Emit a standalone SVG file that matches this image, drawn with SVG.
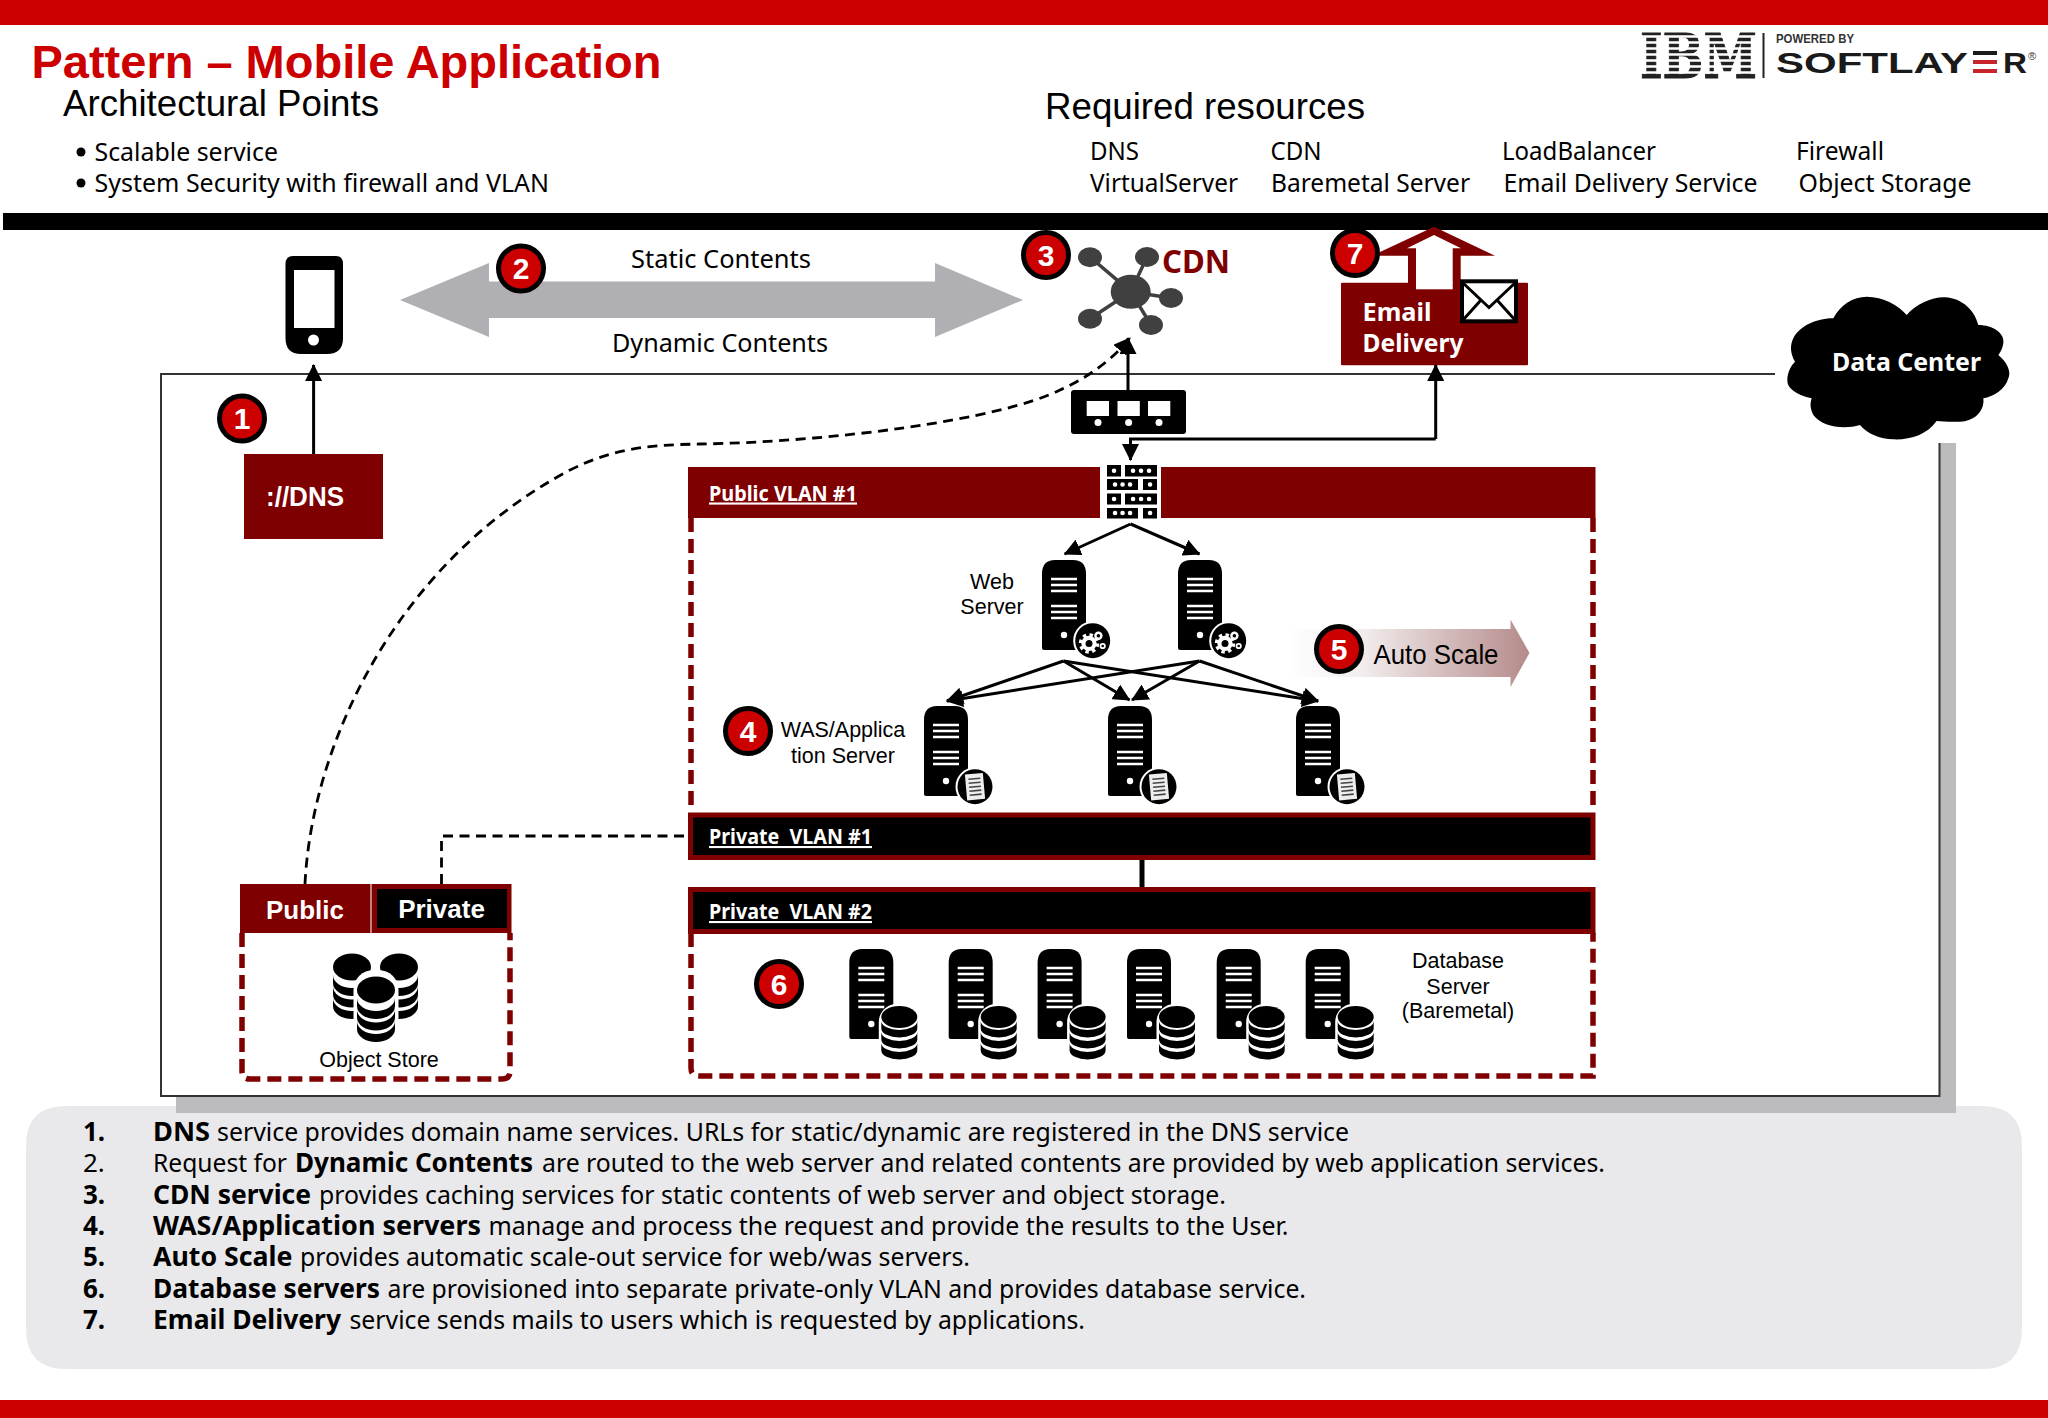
<svg xmlns="http://www.w3.org/2000/svg" width="2048" height="1418" viewBox="0 0 2048 1418">
<style>
text{white-space:pre}
.a{font-family:"Liberation Sans",Arial,sans-serif}
.n{font-family:"Noto Sans","Open Sans",sans-serif}
.b{font-weight:700}
.w{fill:#fff}
.k{fill:#000}
.m{fill:#7f0000}
.c{text-anchor:middle}
.u{text-decoration:underline}
.h{font-size:36px}
.t{font-size:24.5px}
.l{font-size:26px}
.s{font-size:21.5px}
.v{font-size:21px}
.dash{fill:none;stroke:#7f0000;stroke-width:5.5;stroke-dasharray:14 7}
.lnk{fill:none;stroke:#000;stroke-width:3}
.dl{fill:none;stroke:#000;stroke-width:2.8;stroke-dasharray:10 6.5}
</style>
<defs>
<marker id="ah" markerUnits="userSpaceOnUse" markerWidth="17" markerHeight="17" viewBox="0 0 16 16" refX="15" refY="8" orient="auto"><path d="M0,0L16,8L0,16z"/></marker>
<linearGradient id="gs" x1="0" x2="1" y1="0" y2="0"><stop offset="0" stop-color="#fff"/><stop offset="0.3" stop-color="#f3eeee"/><stop offset="1" stop-color="#b58a8a"/></linearGradient>
<g id="srv">
<path d="M0,88V14Q0,0 13,0H31Q44,0 44,14V88Q44,90 42,90H2Q0,90 0,88z"/>
<path d="M9,19H35M9,25H35M9,31H35M9,46H35M9,52H35M9,58H35" stroke="#fff" stroke-width="2.6"/>
<circle cx="22" cy="75" r="3.2" fill="#fff"/>
</g>
<g id="gear">
<circle r="19.5" fill="#fff"/><circle r="17.5"/>
<g fill="none" stroke="#fff">
<circle cx="-3.7" cy="2.7" r="5.6" stroke-width="4.2"/>
<circle cx="-3.7" cy="2.7" r="8.6" stroke-width="3.2" stroke-dasharray="3.4 3.4"/>
<circle cx="5.7" cy="-5" r="3" stroke-width="2.4"/>
<circle cx="10" cy="5.300" r="2.200" stroke-width="1.800"/>
</g>
</g>
<g id="doc">
<circle r="19.5" fill="#fff"/><circle r="17.5"/>
<g transform="rotate(-5)"><rect x="-9" y="-13" width="18" height="26" fill="#eee"/>
<path d="M-6,-8H6M-6,-4H6M-6,0H6M-6,4H6M-6,8H6" stroke="#444" stroke-width="1.6"/></g>
</g>
<g id="cyl">
<rect x="-20.5" y="-13" width="41" height="58" rx="18" fill="#fff"/>
<ellipse rx="18" ry="11"/>
<path d="M-18,4a18,9 0 0 0 36,0v7.500a18,9 0 0 1 -36,0zM-18,15a18,9 0 0 0 36,0v7.500a18,9 0 0 1 -36,0zM-18,26a18,9 0 0 0 36,0v7.500a18,9 0 0 1 -36,0z"/>
</g>
<g id="stack">
<ellipse rx="19" ry="13.500"/>
<path d="M-19,8a19,13 0 0 0 38,0v8a19,13 0 0 1 -38,0zM-19,19.500a19,13 0 0 0 38,0v8a19,13 0 0 1 -38,0zM-19,31a19,13 0 0 0 38,0v8a19,13 0 0 1 -38,0z"/>
</g>
</defs>

<rect id="bg" width="2048" height="1418" fill="#fff"/>
<rect id="bar-top" width="2048" height="25" fill="#cc0000"/>
<rect id="bar-bottom" y="1400" width="2048" height="18" fill="#cc0000"/>
<rect id="bar-black" x="3" y="213" width="2045" height="17"/>

<g id="title">
<text class="a b" x="31.500" y="77.500" font-size="47" fill="#cc0000" textLength="630" lengthAdjust="spacingAndGlyphs">Pattern – Mobile Application</text>
</g>
<g id="architectural-points">
<text class="a h" x="63" y="116" textLength="316" lengthAdjust="spacingAndGlyphs">Architectural Points</text>
<circle cx="81" cy="152" r="4.500"/><circle cx="81" cy="183" r="4.500"/>
<text class="n t" x="94.500" y="160.500" textLength="183.500" lengthAdjust="spacingAndGlyphs">Scalable service</text>
<text class="n t" x="94.500" y="191.500" textLength="454.500" lengthAdjust="spacingAndGlyphs">System Security with firewall and VLAN</text>
</g>
<g id="required-resources">
<text class="a h" x="1045" y="118.500" textLength="320" lengthAdjust="spacingAndGlyphs">Required resources</text>
<text class="n t" x="1090" y="159.500" textLength="49" lengthAdjust="spacingAndGlyphs">DNS</text>
<text class="n t" x="1270.500" y="159.500" textLength="51" lengthAdjust="spacingAndGlyphs">CDN</text>
<text class="n t" x="1502" y="159.500" textLength="154" lengthAdjust="spacingAndGlyphs">LoadBalancer</text>
<text class="n t" x="1796" y="159.500" textLength="88" lengthAdjust="spacingAndGlyphs">Firewall</text>
<text class="n t" x="1090" y="191.500" textLength="148" lengthAdjust="spacingAndGlyphs">VirtualServer</text>
<text class="n t" x="1271" y="191.500" textLength="199" lengthAdjust="spacingAndGlyphs">Baremetal Server</text>
<text class="n t" x="1503.500" y="191.500" textLength="254" lengthAdjust="spacingAndGlyphs">Email Delivery Service</text>
<text class="n t" x="1798.500" y="191.500" textLength="173" lengthAdjust="spacingAndGlyphs">Object Storage</text>
</g>
<g id="logo">
<text x="1640" y="78" font-family="DejaVu Serif,serif" font-weight="700" font-size="61" fill="#222" stroke="#222" stroke-width="1" textLength="117" lengthAdjust="spacingAndGlyphs">IBM</text>
<path d="M1636,36.500H1762M1636,42.500H1762M1636,48.500H1762M1636,54.500H1762M1636,60.500H1762M1636,66.500H1762M1636,72.500H1762" stroke="#fff" stroke-width="2.6"/>
<rect x="1762.500" y="33" width="2" height="45" fill="#222"/>
<text class="a b" x="1776" y="43" font-size="12.500" fill="#333" textLength="78" lengthAdjust="spacingAndGlyphs">POWERED BY</text>
<text class="a b" x="1776" y="73" font-size="30" fill="#1a1a1a"><tspan textLength="192" lengthAdjust="spacingAndGlyphs">SOFTLAY</tspan><tspan x="1973" textLength="25" lengthAdjust="spacingAndGlyphs">E</tspan><tspan x="2003" textLength="24" lengthAdjust="spacingAndGlyphs">R</tspan></text>
<rect x="1972" y="55" width="27" height="5" fill="#fff"/>
<rect x="1972" y="64" width="27" height="5" fill="#fff"/>
<rect x="1973" y="51" width="24" height="4" fill="#1a1a1a"/>
<rect x="1973" y="60" width="24" height="4" fill="#c8242c"/>
<rect x="1973" y="69" width="24" height="4" fill="#c8242c"/>
<text class="a" x="2028" y="60" font-size="11" fill="#333">®</text>
</g>

<g id="main-frame">
<rect x="1940" y="443" width="16" height="670" fill="#bcbcbe"/>
<rect x="176" y="1097" width="1780" height="16" fill="#bcbcbe"/>
<path d="M1775,374H161V1096H1939.500V443" fill="#fff" stroke="#333" stroke-width="2"/>
</g>
<g id="notes-panel">
<path d="M26,1146Q26,1106 66,1106H1982Q2022,1106 2022,1146V1329Q2022,1369 1982,1369H66Q26,1369 26,1329z" fill="#e9e9eb"/>
<rect x="176" y="1097" width="1780" height="16" fill="#bcbcbe"/>
<g class="n l">
<text x="83" y="1141" font-weight="700">1.</text>
<text x="153" y="1141" font-weight="700" textLength="57" lengthAdjust="spacingAndGlyphs">DNS</text>
<text x="217" y="1141" textLength="1132" lengthAdjust="spacingAndGlyphs">service provides domain name services. URLs for static/dynamic are registered in the DNS service</text>
<text x="83" y="1172.300">2.</text>
<text x="153" y="1172.300" textLength="134" lengthAdjust="spacingAndGlyphs">Request for</text>
<text x="295" y="1172.300" font-weight="700" textLength="238" lengthAdjust="spacingAndGlyphs">Dynamic Contents</text>
<text x="542" y="1172.300" textLength="1063" lengthAdjust="spacingAndGlyphs">are routed to the web server and related contents are provided by web application services.</text>
<text x="83" y="1203.600" font-weight="700">3.</text>
<text x="153" y="1203.600" font-weight="700" textLength="158" lengthAdjust="spacingAndGlyphs">CDN service</text>
<text x="319" y="1203.600" textLength="907" lengthAdjust="spacingAndGlyphs">provides caching services for static contents of web server and object storage.</text>
<text x="83" y="1235" font-weight="700">4.</text>
<text x="153" y="1235" font-weight="700" textLength="328" lengthAdjust="spacingAndGlyphs">WAS/Application servers</text>
<text x="488.500" y="1235" textLength="800" lengthAdjust="spacingAndGlyphs">manage and process the request and provide the results to the User.</text>
<text x="83" y="1266.300" font-weight="700">5.</text>
<text x="153" y="1266.300" font-weight="700" textLength="139.500" lengthAdjust="spacingAndGlyphs">Auto Scale</text>
<text x="300" y="1266.300" textLength="670" lengthAdjust="spacingAndGlyphs">provides automatic scale-out service for web/was servers.</text>
<text x="83" y="1297.600" font-weight="700">6.</text>
<text x="153" y="1297.600" font-weight="700" textLength="227" lengthAdjust="spacingAndGlyphs">Database servers</text>
<text x="387.500" y="1297.600" textLength="918.500" lengthAdjust="spacingAndGlyphs">are provisioned into separate private-only VLAN and provides database service.</text>
<text x="83" y="1329" font-weight="700">7.</text>
<text x="153" y="1329" font-weight="700" textLength="188" lengthAdjust="spacingAndGlyphs">Email Delivery</text>
<text x="349.500" y="1329" textLength="735.500" lengthAdjust="spacingAndGlyphs">service sends mails to users which is requested by applications.</text>
</g>
</g>

<g id="traffic-arrow">
<path d="M400,300L489,263V281.500H935V263L1023,300L935,337V318H489V337z" fill="#b0afb3"/>
<text class="n" x="631" y="268" font-size="25" textLength="180" lengthAdjust="spacingAndGlyphs">Static Contents</text>
<text class="n" x="612" y="352" font-size="25" textLength="216" lengthAdjust="spacingAndGlyphs">Dynamic Contents</text>
</g>

<g id="phone">
<path d="M285.500,264Q285.500,256 293,256H336Q343,256 343,264V338Q343,354 327,354H301Q285.500,354 285.500,338z"/>
<rect x="294" y="270" width="40.500" height="58" fill="#fff"/>
<circle cx="313.500" cy="340" r="5.500" fill="#fff"/>
</g>

<g id="dns">
<rect x="244" y="454" width="139" height="85" class="m"/>
<text class="a b w" x="266" y="506" font-size="27" textLength="78" lengthAdjust="spacingAndGlyphs">://DNS</text>
</g>

<g id="cdn" fill="#404040">
<path d="M1090,257L1130.700,291.700L1147,257M1130.700,291.700L1171,298M1130.700,291.700L1151,325M1130.700,291.700L1090,318.700" stroke="#404040" stroke-width="3.500" fill="none"/>
<ellipse cx="1130.700" cy="291.700" rx="20" ry="17"/>
<ellipse cx="1090" cy="257.300" rx="12" ry="10"/>
<ellipse cx="1147" cy="257" rx="12" ry="10"/>
<ellipse cx="1171" cy="298" rx="12" ry="10"/>
<ellipse cx="1151" cy="325" rx="12" ry="10"/>
<ellipse cx="1090" cy="318.700" rx="12" ry="10"/>
<text class="n b m" x="1162" y="272.700" font-size="32" textLength="68" lengthAdjust="spacingAndGlyphs">CDN</text>
</g>

<g id="email-delivery">
<path d="M1434,226.700L1495,255.700H1460.700V290H1408V255.700H1372z" class="m"/>
<path d="M1434,235L1461,248.300H1452.700V289.300H1416V248.300H1407z" fill="#fff"/>
<rect x="1341" y="282.700" width="187" height="82.500" rx="1" class="m"/>
<rect x="1416" y="282" width="36.700" height="7.300" fill="#fff"/>
<rect x="1462" y="281.300" width="54" height="40" fill="#fff" stroke="#000" stroke-width="4"/>
<path d="M1463,283L1489,307.500L1515,283M1463,320L1481,300M1515,320L1497,300" fill="none" stroke="#000" stroke-width="3"/>
<text class="n b w" x="1362.500" y="320.500" font-size="25" textLength="69" lengthAdjust="spacingAndGlyphs">Email</text>
<text class="n b w" x="1362.500" y="351.700" font-size="25" textLength="101" lengthAdjust="spacingAndGlyphs">Delivery</text>
</g>

<g id="data-center">
<path transform="translate(1770,290) scale(.33333)" d="M410,75C440,40 490,20 525,22C580,25 615,65 625,105C670,105 705,130 700,160C698,175 690,190 685,195C710,215 725,245 715,265C705,300 670,320 640,325C645,365 610,395 570,395C540,397 515,393 500,393C470,435 420,450 370,448C330,448 290,430 270,405C220,420 155,410 130,375C120,355 120,340 125,325C80,315 50,295 52,270C52,245 65,225 75,215C60,190 60,165 70,145C90,105 145,85 190,85C210,45 250,20 290,20C340,20 385,45 410,75Z"/>
<text class="n b w" x="1832" y="371" font-size="25" textLength="149" lengthAdjust="spacingAndGlyphs">Data Center</text>
</g>

<g id="public-vlan-1">
<path class="dash" d="M691,518V812M1593,518V812"/>
<rect x="688" y="467" width="907.500" height="51" class="m"/>
<text class="n b w v u" x="709" y="500.500" textLength="148" lengthAdjust="spacingAndGlyphs">Public VLAN #1</text>
</g>

<g id="firewall">
<rect x="1100" y="462" width="61" height="58" fill="#fff"/>
<path d="M1107,465h14v11.500h-14zM1125,465h32v11.500h-32zM1107,479h31v11h-31zM1143,479h14v11h-14zM1107,493.500h14v11h-14zM1125,493.500h32v11h-32zM1107,508h31v10.500h-31zM1143,508h14v10.500h-14z"/>
<path d="M1114,470.700h.1M1133,470.700h.1M1141,470.700h.1M1149,470.700h.1M1115,484.500h.1M1122.500,484.500h.1M1130,484.500h.1M1150,484.500h.1M1114,499h.1M1133,499h.1M1141,499h.1M1149,499h.1M1115,513h.1M1122.500,513h.1M1130,513h.1M1150,513h.1" stroke="#fff" stroke-width="4.500" stroke-linecap="round"/>
</g>

<g id="switch">
<rect x="1071" y="390" width="115" height="44" rx="3"/>
<rect x="1086.700" y="401" width="22.300" height="15" fill="#fff"/>
<rect x="1117.500" y="401" width="22.300" height="15" fill="#fff"/>
<rect x="1148" y="401" width="22.300" height="15" fill="#fff"/>
<circle cx="1098" cy="422.500" r="3.500" fill="#fff"/><circle cx="1128.600" cy="422.500" r="3.500" fill="#fff"/><circle cx="1159" cy="422.500" r="3.500" fill="#fff"/>
</g>

<g id="web-server-1"><use href="#srv" x="1042" y="560"/><use href="#gear" x="1092.700" y="640.700"/></g>
<g id="web-server-2"><use href="#srv" x="1178" y="560"/><use href="#gear" x="1228.700" y="640.700"/></g>
<text id="web-label" class="a s c"><tspan x="992" y="589">Web</tspan><tspan x="992" y="614">Server</tspan></text>

<g id="was-server-1"><use href="#srv" x="924" y="706"/><use href="#doc" x="975" y="786.700"/></g>
<g id="was-server-2"><use href="#srv" x="1108" y="706"/><use href="#doc" x="1159" y="786.700"/></g>
<g id="was-server-3"><use href="#srv" x="1296" y="706"/><use href="#doc" x="1347" y="786.700"/></g>
<text id="was-label" class="a s c"><tspan x="843" y="737">WAS/Applica</tspan><tspan x="843" y="762.500">tion Server</tspan></text>

<g id="auto-scale">
<path d="M1288,629H1510.500V619.500L1529.500,653L1510.500,687V677H1288z" fill="url(#gs)"/>
<text class="a" x="1373.500" y="664" font-size="28" textLength="125" lengthAdjust="spacingAndGlyphs">Auto Scale</text>
</g>

<g id="private-vlan-1">
<rect x="690.500" y="815" width="902.500" height="42.500" stroke="#7f0000" stroke-width="5"/>
<text class="n b w v u" x="709" y="844" textLength="163" lengthAdjust="spacingAndGlyphs">Private  VLAN #1</text>
</g>

<g id="private-vlan-2">
<path class="dash" d="M691,933V1068Q691,1076 699,1076H1593V933"/>
<rect x="690.500" y="889.500" width="902.500" height="42" stroke="#7f0000" stroke-width="5"/>
<text class="n b w v u" x="709" y="919" textLength="163" lengthAdjust="spacingAndGlyphs">Private  VLAN #2</text>
</g>

<g id="db-server-1"><use href="#srv" x="849.300" y="949"/><use href="#cyl" x="899.300" y="1017"/></g>
<g id="db-server-2"><use href="#srv" x="948.700" y="949"/><use href="#cyl" x="998.700" y="1017"/></g>
<g id="db-server-3"><use href="#srv" x="1037.600" y="949"/><use href="#cyl" x="1087.600" y="1017"/></g>
<g id="db-server-4"><use href="#srv" x="1127" y="949"/><use href="#cyl" x="1177" y="1017"/></g>
<g id="db-server-5"><use href="#srv" x="1216.700" y="949"/><use href="#cyl" x="1266.700" y="1017"/></g>
<g id="db-server-6"><use href="#srv" x="1305.700" y="949"/><use href="#cyl" x="1355.700" y="1017"/></g>
<text id="db-label" class="a s c"><tspan x="1458" y="967.500">Database</tspan><tspan x="1458" y="993.500">Server</tspan><tspan x="1458" y="1018">(Baremetal)</tspan></text>

<g id="object-store">
<path class="dash" d="M242,933V1071Q242,1079 250,1079H502Q510,1079 510,1071V933"/>
<rect x="240" y="884" width="271.500" height="49" class="m"/>
<rect x="370.500" y="884" width="1" height="49" fill="#fff"/>
<rect x="377" y="889" width="130" height="39"/>
<text class="a b w c" x="305" y="919" font-size="26">Public</text>
<text class="a b w c" x="441.500" y="918" font-size="26">Private</text>
<use href="#stack" x="352" y="967"/>
<use href="#stack" x="399" y="967"/>
<rect x="353.500" y="970" width="45" height="76" rx="20" fill="#fff"/>
<use href="#stack" x="376" y="990"/>
<text class="a s c" x="379" y="1067">Object Store</text>
</g>

<g id="connectors">
<path class="lnk" d="M313.600,454V365" marker-end="url(#ah)"/>
<path class="lnk" d="M1128,390V338" marker-end="url(#ah)"/>
<path class="lnk" d="M1435.700,439V365" marker-end="url(#ah)"/>
<path class="lnk" d="M1435.700,439H1130.500V460" marker-end="url(#ah)"/>
<path class="lnk" d="M1130.600,524L1064.600,554" marker-end="url(#ah)"/>
<path class="lnk" d="M1130.600,524L1199.500,554" marker-end="url(#ah)"/>
<path class="lnk" d="M1063.500,661L947,701" marker-end="url(#ah)"/>
<path class="lnk" d="M1063.500,661L1129.500,700" marker-end="url(#ah)"/>
<path class="lnk" d="M1063.500,661L1318,701" marker-end="url(#ah)"/>
<path class="lnk" d="M1199.500,661L947,701" marker-end="url(#ah)"/>
<path class="lnk" d="M1199.500,661L1132,700" marker-end="url(#ah)"/>
<path class="lnk" d="M1199.500,661L1318,701" marker-end="url(#ah)"/>
<path d="M1142,860V887" fill="none" stroke="#000" stroke-width="5"/>
<path class="dl" d="M305,884C312,740 400,560 570,470C620,445 660,445 700,444C830,442 1000,420 1060,390C1100,372 1120,350 1130,338" marker-end="url(#ah)"/>
<path class="dl" d="M441.500,884V836H688"/>
</g>

<g id="badges" font-family="Liberation Sans,Arial,sans-serif" font-weight="700" font-size="30" text-anchor="middle" fill="#fff">
<g id="badge-1"><circle cx="242" cy="418.500" r="22.500" fill="#cc0000" stroke="#000" stroke-width="5"/><text x="242" y="429">1</text></g>
<g id="badge-2"><circle cx="521" cy="268.500" r="22.500" fill="#cc0000" stroke="#000" stroke-width="5"/><text x="521" y="279">2</text></g>
<g id="badge-3"><circle cx="1046" cy="255" r="22.500" fill="#cc0000" stroke="#000" stroke-width="5"/><text x="1046" y="265.500">3</text></g>
<g id="badge-4"><circle cx="748" cy="731" r="22.500" fill="#cc0000" stroke="#000" stroke-width="5"/><text x="748" y="741.500">4</text></g>
<g id="badge-5"><circle cx="1339" cy="649" r="22.500" fill="#cc0000" stroke="#000" stroke-width="5"/><text x="1339" y="659.500">5</text></g>
<g id="badge-6"><circle cx="779" cy="984" r="22.500" fill="#cc0000" stroke="#000" stroke-width="5"/><text x="779" y="994.500">6</text></g>
<g id="badge-7"><circle cx="1355" cy="253" r="22.500" fill="#cc0000" stroke="#000" stroke-width="5"/><text x="1355" y="263.500">7</text></g>
</g>
</svg>
